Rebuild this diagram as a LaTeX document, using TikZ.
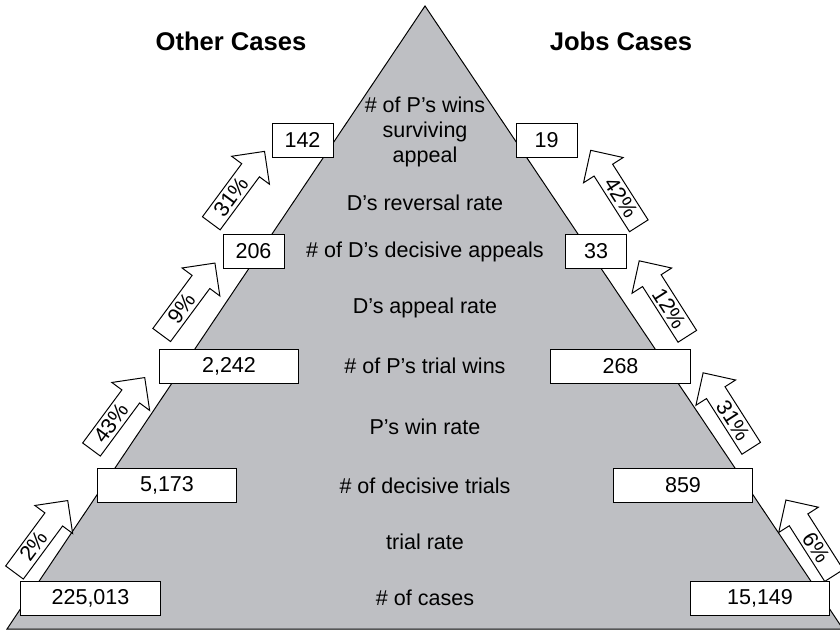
\documentclass[tikz,border=0pt]{standalone}
\usepackage{fontspec}
\setmainfont{Liberation Sans}
\definecolor{pyrgray}{RGB}{190,191,195}
\newcommand{\bodyfont}{\fontsize{15.3}{17.8}\selectfont}
\newcommand{\headfont}{\fontsize{18.2}{22}\selectfont\bfseries}
\tikzset{
	numbox/.style={draw,fill=white,line width=0.7pt,minimum height=0.85cm,inner sep=0pt,font=\bodyfont},
	widebox/.style={numbox,minimum width=3.475cm},
	smallbox/.style={numbox,minimum width=1.525cm},
	blockarrow/.style={draw,fill=white,line width=0.7pt,line join=miter},
	ratetext/.style={transform shape,font=\bodyfont,inner sep=0pt},
	level/.style={font=\bodyfont,align=center}
}
\begin{document}
\begin{tikzpicture}[x=0.025cm,y=-0.025cm]
	\useasboundingbox (0,0) rectangle (840,631);
	% the pyramid
	\draw[fill=pyrgray,line width=0.7pt] (425,6) -- (7,629) -- (843,629) -- cycle;
	% headings
	\node[font=\headfont,anchor=base] (other) at (231,50) {Other Cases};
	\node[font=\headfont,anchor=base] (jobs) at (621,50) {Jobs Cases};
	% levels of the pyramid
	\node[level] (cases) at (425,598) {\# of cases};
	\node[level] (trate) at (425,542) {trial rate};
	\node[level] (trials) at (425,485.5) {\# of decisive trials};
	\node[level] (wrate) at (425,427) {P’s win rate};
	\node[level] (wins) at (425,366) {\# of P’s trial wins};
	\node[level] (arate) at (425,308) {D’s appeal rate};
	\node[level] (appeals) at (425,251.5) {\# of D’s decisive appeals};
	\node[level] (rrate) at (425,203) {D’s reversal rate};
	\node[level] (surv) at (425,132) {\# of P’s wins\\surviving\\appeal};
	% other cases
	\node[widebox] (o1) at (90.5,598) {225,013};
	\node[widebox] (o2) at (167,485.5) {5,173};
	\node[widebox] (o3) at (229,366) {2,242};
	\node[smallbox] (o4) at (253.5,251.5) {206};
	\node[smallbox] (o5) at (302.5,140) {142};
	% jobs cases
	\node[widebox] (j1) at (760,598) {15,149};
	\node[widebox] (j2) at (683,485.5) {859};
	\node[widebox] (j3) at (620.5,366) {268};
	\node[smallbox] (j4) at (596,251.5) {33};
	\node[smallbox] (j5) at (546.5,140) {19};
	% rates, other cases
	\foreach \x/\y/\t in {14.5/572.5/2,91.5/449.5/43,161.7/335/9,211.3/223.3/31}{
		\begin{scope}[shift={(\x,\y)},rotate=53.5]
			\draw[blockarrow] (0,-11) -- (66,-11) -- (66,-23.5) -- (89.5,0)
				-- (66,23.5) -- (66,11) -- (0,11) -- cycle;
			\node[ratetext] (up\t) at (33,0) {\t\%};
		\end{scope}
	}
	% rates, jobs cases
	\foreach \x/\y/\t in {834/575.5/6,751.2/448.3/31,687.3/336.3/12,638.8/225.8/42}{
		\begin{scope}[shift={(\x,\y)},rotate=-57.5]
			\draw[blockarrow] (0,-11) -- (-66,-11) -- (-66,-23.5) -- (-89.5,0)
				-- (-66,23.5) -- (-66,11) -- (0,11) -- cycle;
			\node[ratetext] (rt\t) at (-33,0) {\t\%};
		\end{scope}
	}
\end{tikzpicture}
\end{document}
